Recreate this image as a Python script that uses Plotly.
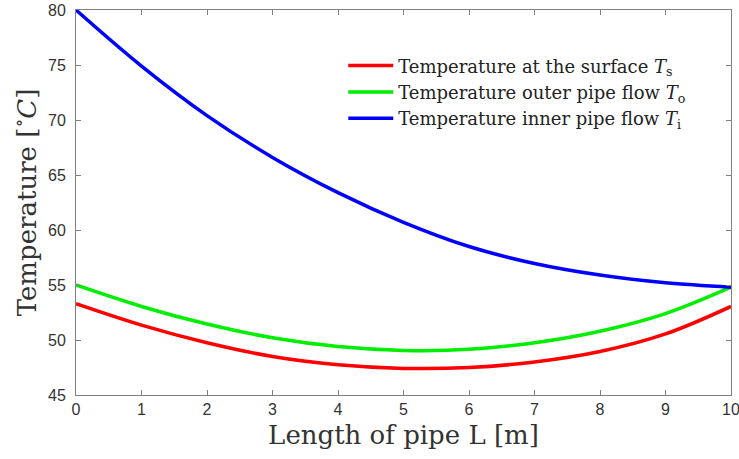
import plotly.graph_objects as go

length_m = [0, 1, 2, 3, 4, 5, 6, 7, 8, 9, 10]
T_surface = [53.3, 51.35, 49.75, 48.5, 47.75, 47.42, 47.5, 48.0, 48.95, 50.55, 53.05]
T_outer = [55.0, 53.05, 51.45, 50.2, 49.4, 49.05, 49.15, 49.75, 50.8, 52.4, 54.8]
T_inner = [80.0, 74.9, 70.4, 66.6, 63.4, 60.7, 58.5, 56.95, 55.9, 55.2, 54.8]

x_ticks = list(range(0, 11))
y_ticks = [45, 50, 55, 60, 65, 70, 75, 80]

series = [
    ("Temperature at the surface <i>T</i><sub>s</sub>", T_surface, "#ff0000"),
    ("Temperature outer pipe flow <i>T</i><sub>o</sub>", T_outer, "#00ee00"),
    ("Temperature inner pipe flow <i>T</i><sub>i</sub>", T_inner, "#0000ff"),
]

fig = go.Figure()
for name, vals, col in series:
    fig.add_trace(go.Scatter(x=length_m, y=vals, mode="lines", name=name,
                             line=dict(color=col, width=3.5, shape="spline", smoothing=1.0)))

axis_common = dict(showline=True, linecolor="#808080", linewidth=1, mirror="allticks",
                   ticks="inside", ticklen=5, tickcolor="#808080", tickwidth=1,
                   showgrid=False, zeroline=False, automargin=False,
                   ticklabeloverflow="allow",
                   tickfont=dict(family="Liberation Sans, Arial", size=16, color="#333333"))

fig.update_xaxes(range=[0, 10], tickvals=x_ticks,
                 title=dict(text="Length of pipe L [m]", font=dict(family="DejaVu Serif", size=26, color="#333333"), standoff=8),
                 **axis_common)
fig.update_yaxes(range=[45, 80], tickvals=y_ticks, ticklabelstandoff=6,
                 title=dict(text="Temperature [<sup>∘</sup><i>C</i>]", font=dict(family="DejaVu Serif", size=26, color="#333333"), standoff=3),
                 **axis_common)

fig.update_layout(
    width=739, height=459,
    margin=dict(l=76, r=8, t=10, b=64),
    plot_bgcolor="white", paper_bgcolor="white",
    legend=dict(x=0.408, y=0.903, xanchor="left", yanchor="top",
                bgcolor="rgba(255,255,255,1)", borderwidth=0,
                font=dict(family="DejaVu Serif", size=18, color="#222222"),
                tracegroupgap=0, itemwidth=45),
    showlegend=True,
)

fig.write_html("out.html")
